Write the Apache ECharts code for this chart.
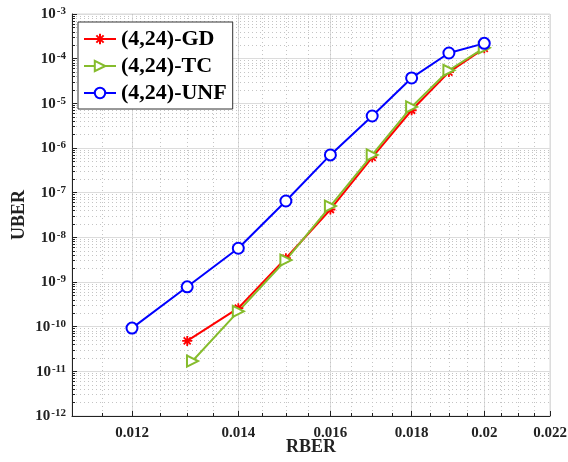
<!DOCTYPE html>
<html lang="en">
  <head>
    <meta charset="UTF-8" />
    <title>UBER vs RBER</title>
    <script src="https://cdn.jsdelivr.net/npm/echarts@6/dist/echarts.min.js"></script>
    <style>
      body { margin: 0; background: #fff; }
    </style>
  </head>
  <body>
    <div id="main" style="width: 568px; height: 462px"></div>
  </body>
  <script>
    // values
    const rberGD = [0.013, 0.014, 0.015, 0.016, 0.017, 0.018, 0.019, 0.02];
    const uberGD = [4.8e-11, 2.6e-10, 3.4e-9, 4.2e-8, 6.2e-7, 7.0e-6, 5.0e-5, 1.7e-4];

    const rberTC = [0.0131, 0.014, 0.015, 0.016, 0.017, 0.018, 0.019, 0.02];
    const uberTC = [1.7e-11, 2.2e-10, 3.1e-9, 5.0e-8, 7.0e-7, 8.3e-6, 5.5e-5, 1.75e-4];

    const rberUNF = [0.012, 0.013, 0.014, 0.015, 0.016, 0.017, 0.018, 0.019, 0.02];
    const uberUNF = [9.3e-11, 7.8e-10, 5.7e-9, 6.5e-8, 7.0e-7, 5.2e-6, 3.7e-5, 1.34e-4, 2.2e-4];

    const xTicks = [0.012, 0.014, 0.016, 0.018, 0.02, 0.022];
    const xTickLabels = ["0.012", "0.014", "0.016", "0.018", "0.02", "0.022"];

    const xMin = 0.011, xMax = 0.022;
    const yMinExp = -12, yMaxExp = -3;

    // both axes are log10 scaled
    const lg = Math.log10;
    const pts = (xs, ys) => xs.map((x, i) => [lg(x), lg(ys[i])]);

    // minor ticks / dotted grid
    const xMinor = [];
    for (let v = 0.0115; v < xMax; v += 0.0005) xMinor.push(lg(v));
    const yMinor = [];
    for (let n = yMinExp; n < yMaxExp; n++) {
      for (let k = 2; k <= 9; k++) yMinor.push(lg(k) + n);
    }

    const font = "Liberation Serif";

    var myChart = echarts.init(document.getElementById("main"));

    var option = {
      animation: false,
      textStyle: { fontFamily: font },
      grid: {
        left: 72,
        right: 18,
        top: 14,
        bottom: 46,
        outerBoundsMode: "none",
        show: true,
        borderColor: "#d9d9d9",
        borderWidth: 1,
      },
      legend: {
        left: 78,
        top: 22,
        orient: "vertical",
        itemGap: 5,
        itemWidth: 32,
        itemHeight: 13,
        padding: [6, 6, 5, 5],
        backgroundColor: "#fff",
        borderColor: "#333",
        borderWidth: 1,
        borderRadius: 0,
        textStyle: { fontFamily: font, fontWeight: "bold", fontSize: 22, color: "#000" },
      },
      xAxis: [
        {
          type: "value",
          min: lg(xMin),
          max: lg(xMax),
          name: "RBER",
          nameLocation: "middle",
          nameGap: 22,
          nameMoveOverlap: false,
          nameTextStyle: { fontFamily: font, fontWeight: "bold", fontSize: 18, color: "#222" },
          axisLine: { lineStyle: { color: "#222", width: 1 } },
          axisTick: {
            inside: true,
            length: 5,
            customValues: xTicks.map(lg),
            lineStyle: { color: "#222" },
          },
          axisLabel: {
            customValues: xTicks.map(lg),
            margin: 10,
            fontFamily: font,
            fontWeight: "bold",
            fontSize: 15,
            color: "#222",
            formatter: (v) => {
              let best = 0;
              xTicks.forEach((t, i) => {
                if (Math.abs(lg(t) - v) < Math.abs(lg(xTicks[best]) - v)) best = i;
              });
              return xTickLabels[best];
            },
          },
          splitLine: { show: true, lineStyle: { color: "#dcdcdc", width: 1 } },
        },
        {
          type: "value",
          min: lg(xMin),
          max: lg(xMax),
          position: "bottom",
          axisLine: { show: false },
          axisTick: {
            inside: true,
            length: 3,
            customValues: xMinor,
            lineStyle: { color: "#222" },
          },
          axisLabel: { show: false, customValues: xMinor },
          splitLine: { show: true, lineStyle: { color: "#c4c4c4", type: [1, 3], width: 1 } },
        },
      ],
      yAxis: [
        {
          type: "value",
          min: yMinExp,
          max: yMaxExp,
          interval: 1,
          name: "UBER",
          nameLocation: "middle",
          nameGap: 44,
          nameMoveOverlap: false,
          nameTextStyle: { fontFamily: font, fontWeight: "bold", fontSize: 18, color: "#222" },
          axisLine: { show: true, lineStyle: { color: "#222", width: 1 } },
          axisTick: { show: true, inside: true, length: 5, lineStyle: { color: "#222" } },
          axisLabel: {
            margin: 6,
            color: "#222",
            formatter: (v) => "{b|10}{s|" + Math.round(v) + "}",
            rich: {
              b: { fontFamily: font, fontWeight: "bold", fontSize: 15, color: "#222", lineHeight: 16, padding: [8, 0, 0, 0], verticalAlign: "bottom" },
              s: { fontFamily: font, fontWeight: "bold", fontSize: 11, color: "#222", lineHeight: 12, verticalAlign: "top", padding: [0, 0, 0, 1] },
            },
          },
          splitLine: { show: true, lineStyle: { color: "#dcdcdc", width: 1 } },
        },
        {
          type: "value",
          min: yMinExp,
          max: yMaxExp,
          position: "left",
          axisLine: { show: false },
          axisTick: {
            show: true,
            inside: true,
            length: 3,
            customValues: yMinor,
            lineStyle: { color: "#222" },
          },
          axisLabel: { show: false, customValues: yMinor },
          splitLine: { show: true, lineStyle: { color: "#c4c4c4", type: [1, 3], width: 1 } },
        },
      ],
      series: [
        {
          name: "(4,24)-GD",
          type: "line",
          data: pts(rberGD, uberGD),
          symbol: "path://M0,-10 L0,10 M-10,0 L10,0 M-7,-7 L7,7 M-7,7 L7,-7",
          symbolSize: 10,
          lineStyle: { color: "#ff0000", width: 2 },
          itemStyle: { color: "#ff0000", borderColor: "#ff0000", borderWidth: 1.8 },
        },
        {
          name: "(4,24)-TC",
          type: "line",
          data: pts(rberTC, uberTC),
          symbol: "emptyTriangle",
          symbolRotate: -90,
          symbolSize: 11,
          lineStyle: { color: "#86bc2c", width: 2 },
          itemStyle: { color: "#86bc2c", borderColor: "#86bc2c", borderWidth: 1.8 },
        },
        {
          name: "(4,24)-UNF",
          type: "line",
          data: pts(rberUNF, uberUNF),
          symbol: "emptyCircle",
          symbolSize: 11,
          lineStyle: { color: "#0000ff", width: 2 },
          itemStyle: { color: "#0000ff", borderColor: "#0000ff", borderWidth: 2 },
        },
      ],
    };

    myChart.setOption(option);
  </script>
</html>
